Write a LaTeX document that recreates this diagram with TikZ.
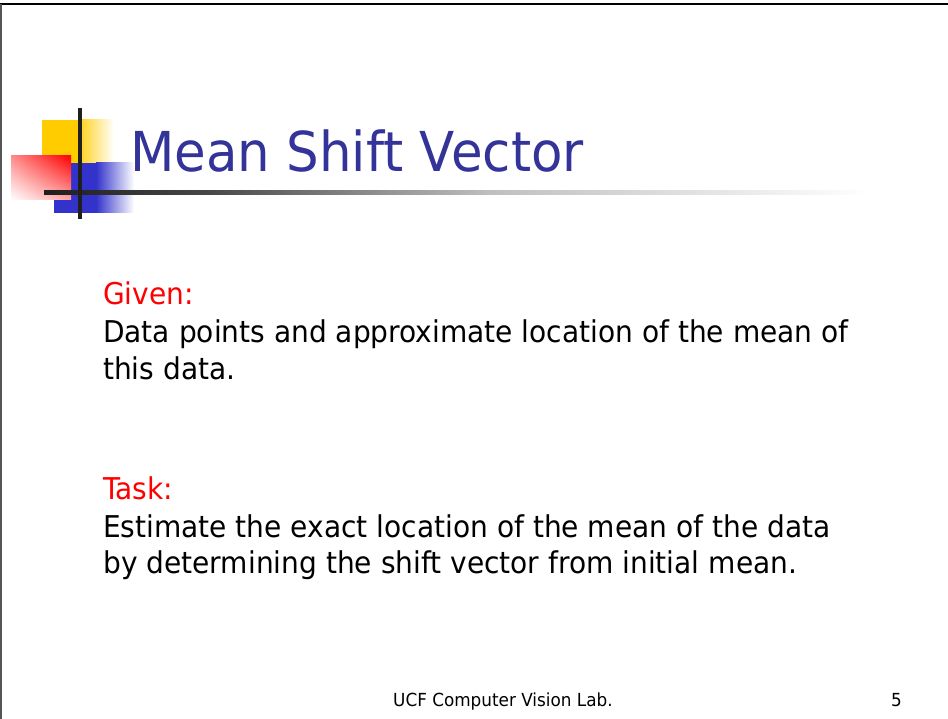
\documentclass[tikz,border=0pt]{standalone}
\usepackage{fontspec}
\newfontfamily\slidefont{DejaVu Sans}[FakeStretch=0.935]
\usetikzlibrary{positioning,shadings}
\definecolor{titleblue}{HTML}{333399}
\definecolor{headred}{HTML}{FF0000}
\definecolor{boxyellow}{HTML}{FFCC00}
\definecolor{boxblue}{HTML}{3333CC}
\definecolor{framegray}{HTML}{555555}
\pgfdeclarehorizontalshading{rulefade}{100bp}{color(0bp)=(black!88); color(25bp)=(black!88); color(35bp)=(black!72); color(52bp)=(black!25); color(75bp)=(white); color(100bp)=(white)}

\begin{document}
\begin{tikzpicture}[x=1pt, y=-1pt,
    every node/.style={inner sep=0pt, anchor=base west},
    body/.style={font=\slidefont\fontsize{30}{36}\selectfont},
    head/.style={body, text=headred}]
        \useasboundingbox (0,0) rectangle (948,719);
        \fill[white] (0,0) rectangle (948,719);
        % slide frame
        \draw[line width=2.5pt] (0,4) -- (948,4);
        \draw[framegray, line width=1.5pt] (0.75,4) -- (0.75,719);
        % title decoration
        \fill[boxyellow] (42,120) rectangle (81,163);
        \shade[left color=boxyellow!85, right color=white] (81,120) rectangle (114,163);
        \fill[boxblue] (54,163) rectangle (96,213);
        \shade[left color=boxblue, right color=white] (96,163) rectangle (134,213);
        \shade[upper right=red, upper left=red!45, lower right=red!35, lower left=white] (11,156) rectangle (71,200);
        \shade[shading=rulefade] (44,191) rectangle (870,195);
        \fill[black!88] (78,108) rectangle (82,219);
        \node[font=\slidefont\fontsize{55}{66}\selectfont, text=titleblue] (title) at (130,172) {Mean Shift Vector};
        % body
        \node[head] (given) at (103,305) {Given:};
        \node[body] (givena) at (103,342) {Data points and approximate location of the mean of};
        \node[body] (givenb) at (103,380) {this data.};
        \node[head] (task) at (103,499) {Task:};
        \node[body] (taska) at (103,537) {Estimate the exact location of the mean of the data};
        \node[body] (taskb) at (103,573) {by determining the shift vector from initial mean.};
        % footer
        \node[font=\slidefont\fontsize{18}{22}\selectfont] (footer) at (393,706) {UCF Computer Vision Lab.};
        \node[font=\slidefont\fontsize{18}{22}\selectfont] (pagenum) at (891,706) {5};
      \end{tikzpicture}
\end{document}
